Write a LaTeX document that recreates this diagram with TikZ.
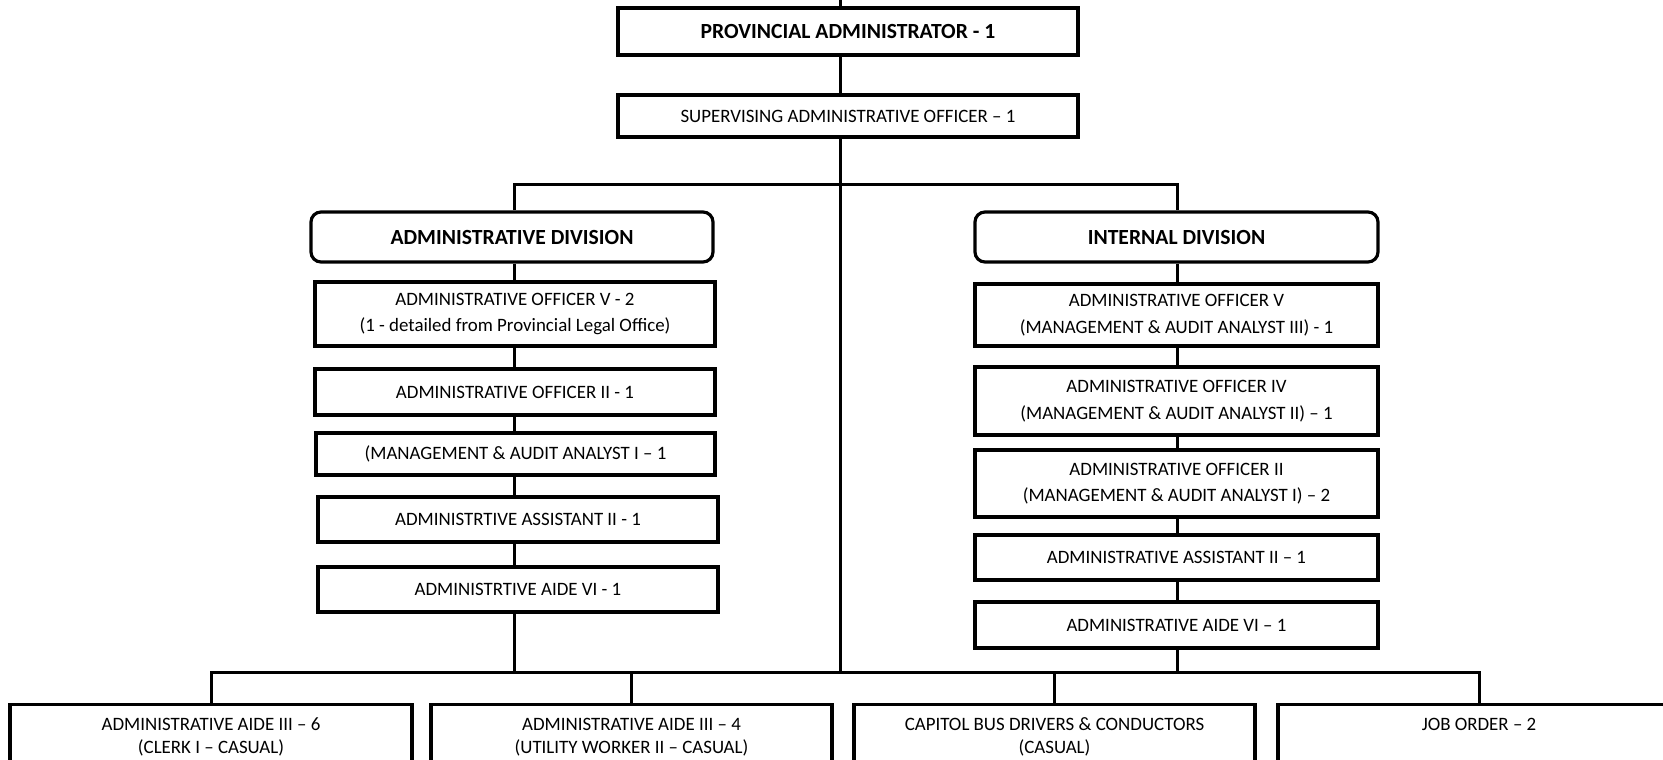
\documentclass[tikz,border=0pt]{standalone}
\usepackage{fontspec}
\setmainfont{Carlito}
\usetikzlibrary{backgrounds}
\begin{document}
\begin{tikzpicture}[x=1pt,y=-1pt,
  box/.style={draw,line width=3.2pt,fill=white,inner sep=0pt,align=center,
    font=\fontsize{18.9}{26.5}\selectfont},
  headbox/.style={box,font=\fontsize{21.6}{25}\selectfont\bfseries},
  divbox/.style={headbox,rounded corners=10pt},
  basebox/.style={draw,line width=3.2pt,fill=white,anchor=north,inner xsep=0pt,
    inner ysep=5pt,align=center,text height=21pt,text depth=60pt,
    font=\fontsize{18.9}{23}\selectfont},
  twoline/.style={text height=44pt,text depth=37pt},
  link/.style={line width=3pt}]
\useasboundingbox (0,0) rectangle (1663,760);
\clip (0,0) rectangle (1663,760);

% office head
\node[headbox,minimum width=460pt,minimum height=47pt] (pa) at (848,31.5) {PROVINCIAL ADMINISTRATOR - 1};
\node[box,minimum width=460pt,minimum height=42pt] (sao) at (848,116) {SUPERVISING ADMINISTRATIVE OFFICER – 1};

% administrative division
\node[divbox,minimum width=402pt,minimum height=50pt] (adiv) at (512,237) {ADMINISTRATIVE DIVISION};
\node[box,minimum width=400pt,minimum height=64pt] (la) at (515,314) {ADMINISTRATIVE OFFICER V - 2\\(1 - detailed from Provincial Legal Office)};
\node[box,minimum width=400pt,minimum height=46pt] (lb) at (515,392) {ADMINISTRATIVE OFFICER II - 1};
\node[box,minimum width=399pt,minimum height=42pt] (lc) at (515.5,454) {(MANAGEMENT \& AUDIT ANALYST I – 1};
\node[box,minimum width=400pt,minimum height=45pt] (ld) at (518,519.5) {ADMINISTRTIVE ASSISTANT II - 1};
\node[box,minimum width=400pt,minimum height=45pt] (le) at (518,589.5) {ADMINISTRTIVE AIDE VI - 1};

% internal division
\node[divbox,minimum width=403pt,minimum height=50pt] (idiv) at (1176.5,237) {INTERNAL DIVISION};
\node[box,minimum width=403pt,minimum height=62pt] (ra) at (1176.5,315) {ADMINISTRATIVE OFFICER V\\(MANAGEMENT \& AUDIT ANALYST III) - 1};
\node[box,minimum width=403pt,minimum height=68pt] (rb) at (1176.5,401) {ADMINISTRATIVE OFFICER IV\\(MANAGEMENT \& AUDIT ANALYST II) – 1};
\node[box,minimum width=403pt,minimum height=67pt] (rc) at (1176.5,483.5) {ADMINISTRATIVE OFFICER II\\(MANAGEMENT \& AUDIT ANALYST I) – 2};
\node[box,minimum width=403pt,minimum height=45pt] (rd) at (1176.5,557.5) {ADMINISTRATIVE ASSISTANT II – 1};
\node[box,minimum width=403pt,minimum height=46pt] (re) at (1176.5,625) {ADMINISTRATIVE AIDE VI – 1};

% casual and job order staff
\node[basebox,twoline,minimum width=402pt] (b1) at (211,703) {ADMINISTRATIVE AIDE III – 6\\(CLERK I – CASUAL)};
\node[basebox,twoline,minimum width=401pt] (b2) at (631.5,703) {ADMINISTRATIVE AIDE III – 4\\(UTILITY WORKER II – CASUAL)};
\node[basebox,twoline,minimum width=401pt] (b3) at (1054.5,703) {CAPITOL BUS DRIVERS \& CONDUCTORS\\(CASUAL)};
\node[basebox,minimum width=402pt] (b4) at (1479,703) {JOB ORDER – 2};

% trunk, column and bus positions
\coordinate (top) at (840,0);
\coordinate (bus) at (840,672);
\coordinate (colL) at (514,184);
\coordinate (colR) at (1177,184);

\begin{pgfonlayer}{background}
  \draw[link] (top) -- (top |- pa.north);
  \draw[link] (pa.south -| top) -- (sao.north -| top);
  \draw[link] (sao.south -| top) -- (bus);
  \draw[link] (colL |- adiv.north) -- (colL) -- (colR) -- (colR |- idiv.north);
  \draw[link] (colL |- adiv.south) -- (colL |- bus);
  \draw[link] (colR |- idiv.south) -- (colR |- bus);
  \draw[link] (b1.north) -- (b1.north |- bus) -- (b4.north |- bus) -- (b4.north);
  \draw[link] (b2.north) -- (b2.north |- bus);
  \draw[link] (b3.north) -- (b3.north |- bus);
\end{pgfonlayer}
\end{tikzpicture}
\end{document}
